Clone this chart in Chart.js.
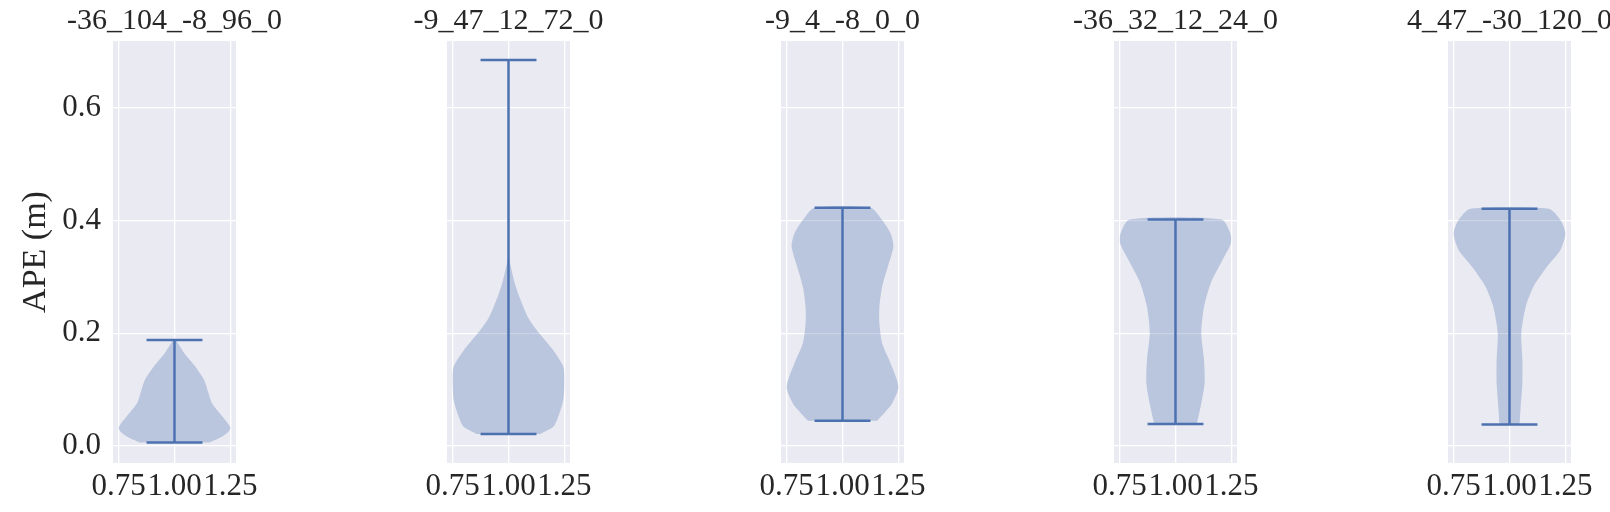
<!DOCTYPE html>
<html>
<head>
<meta charset="utf-8">
<script src="https://cdn.jsdelivr.net/npm/chart.js@4.4.0/dist/chart.umd.min.js"></script>
<style>
  html, body { margin: 0; padding: 0; background: #fff; overflow: hidden; }
  #wrap { position: relative; width: 1610px; height: 512px; }
  #wrap canvas { position: absolute; top: 0; }
</style>
</head>
<body>
<div id="wrap"></div>
<script>
// ── Dados ──────────────────────────────────────────────────────────────────────
const titles = ['-36_104_-8_96_0', '-9_47_12_72_0', '-9_4_-8_0_0', '-36_32_12_24_0', '4_47_-30_120_0'];
const apeMin = [0.006, 0.0213, 0.045, 0.039, 0.038];
const apeMax = [0.188, 0.685, 0.423, 0.402, 0.421];

// perfil de cada violino: níveis de APE (de baixo p/ cima) e meia-largura relativa
const levels1 = [0.006, 0.015, 0.025, 0.033, 0.052, 0.076, 0.093, 0.117, 0.141, 0.164, 0.188];
const widths1 = [0.62, 0.82, 0.96, 1.00, 0.86, 0.67, 0.61, 0.53, 0.37, 0.18, 0.02];
const levels2 = [0.0213, 0.034, 0.052, 0.082, 0.117, 0.141, 0.170, 0.200, 0.230, 0.283, 0.336];
const widths2 = [0.57, 0.80, 0.89, 0.98, 1.00, 0.98, 0.80, 0.55, 0.34, 0.13, 0.0];
const levels3 = [0.045, 0.060, 0.076, 0.105, 0.147, 0.182, 0.218, 0.247, 0.283, 0.318, 0.354, 0.377, 0.401, 0.423];
const widths3 = [0.62, 0.76, 0.89, 1.00, 0.86, 0.71, 0.66, 0.66, 0.71, 0.81, 0.91, 0.86, 0.71, 0.50];
const levels4 = [0.039, 0.070, 0.111, 0.153, 0.200, 0.247, 0.289, 0.330, 0.360, 0.378, 0.402];
const widths4 = [0.38, 0.45, 0.52, 0.51, 0.46, 0.51, 0.63, 0.84, 0.99, 0.98, 0.82];
const levels5 = [0.038, 0.070, 0.111, 0.153, 0.200, 0.247, 0.283, 0.318, 0.348, 0.377, 0.401, 0.421];
const widths5 = [0.18, 0.20, 0.23, 0.23, 0.21, 0.29, 0.43, 0.67, 0.91, 1.00, 0.91, 0.70];

const profiles = [
  [levels1, widths1], [levels2, widths2], [levels3, widths3], [levels4, widths4], [levels5, widths5],
];

const xTicks = [0.75, 1.00, 1.25];
const yTicks = [0.0, 0.2, 0.4, 0.6];

// ── Estilo ────────────────────────────────────────────────────────────────────
const FONT  = "'Liberation Serif', 'DejaVu Serif', serif";
const TEXT  = '#262626';
const PANEL = '#EAEAF2';
const LINE  = '#4C72B0';
const FILL  = 'rgba(76,114,176,0.3)';
const HALF  = 0.25;          // meia-largura máxima do violino (widths=0.5)
const CAP   = 0.125;         // meia-largura das barras min/max

const canvasLeft = [0, 334, 668, 1001, 1335];
const AXIS_W = 113;
const PLOT_W = 123;

const panelBg = {
  id: 'panelBg',
  beforeDraw(chart) {
    const { ctx, chartArea: a } = chart;
    ctx.save();
    ctx.fillStyle = PANEL;
    ctx.fillRect(a.left, a.top, a.width, a.height);
    ctx.restore();
  },
};

function outline(levels, widths) {
  const left  = levels.map((y, k) => ({ x: 1 - widths[k] * HALF, y }));
  const right = levels.map((y, k) => ({ x: 1 + widths[k] * HALF, y })).reverse();
  return left.concat(right);
}

function buildPanel(i) {
  const canvas = document.createElement('canvas');
  canvas.width = AXIS_W * 2 + PLOT_W;
  canvas.height = 512;
  canvas.style.left = canvasLeft[i] + 'px';
  document.getElementById('wrap').appendChild(canvas);

  const first = i === 0;
  const [lv, wd] = profiles[i];
  const lineDs = data => ({
    data, showLine: true, borderColor: LINE, borderWidth: 2.5,
    pointRadius: 0, fill: false, borderCapStyle: 'butt',
  });

  return new Chart(canvas, {
    type: 'scatter',
    data: {
      datasets: [
        {
          data: outline(lv, wd),
          showLine: true,
          fill: 'shape',
          backgroundColor: FILL,
          borderWidth: 0,
          borderColor: 'transparent',
          pointRadius: 0,
          tension: 0.25,
        },
        lineDs([{ x: 1, y: apeMin[i] }, { x: 1, y: apeMax[i] }]),
        lineDs([{ x: 1 - CAP, y: apeMin[i] }, { x: 1 + CAP, y: apeMin[i] }]),
        lineDs([{ x: 1 - CAP, y: apeMax[i] }, { x: 1 + CAP, y: apeMax[i] }]),
      ],
    },
    options: {
      responsive: false,
      animation: false,
      devicePixelRatio: 1,
      layout: { padding: 0 },
      plugins: {
        legend: { display: false },
        tooltip: { enabled: false },
        title: {
          display: true,
          text: titles[i],
          color: TEXT,
          font: { family: FONT, size: 30, weight: 'normal', lineHeight: 1 },
          padding: { top: 6, bottom: 5 },
        },
      },
      scales: {
        x: {
          type: 'linear',
          min: 0.725,
          max: 1.275,
          bounds: 'data',
          afterFit: s => { s.height = 49; },
          afterBuildTicks: s => { s.ticks = xTicks.map(v => ({ value: v })); },
          ticks: {
            color: TEXT,
            font: { family: FONT, size: 31 },
            padding: 5,
            autoSkip: false,
            maxRotation: 0,
            minRotation: 0,
            callback: v => v.toFixed(2),
          },
          grid: { color: '#ffffff', lineWidth: 1.3, drawTicks: false },
          border: { display: false },
        },
        y: {
          type: 'linear',
          min: -0.0302,
          max: 0.7188,
          bounds: 'data',
          afterFit: s => { s.width = AXIS_W; },
          afterBuildTicks: s => { s.ticks = yTicks.map(v => ({ value: v })); },
          ticks: {
            display: first,
            color: TEXT,
            font: { family: FONT, size: 31 },
            padding: 12,
            callback: v => v.toFixed(1),
          },
          title: {
            display: first,
            text: 'APE (m)',
            color: TEXT,
            font: { family: FONT, size: 34 },
            padding: { top: 16, bottom: 0 },
          },
          grid: { color: '#ffffff', lineWidth: 1.3, drawTicks: false },
          border: { display: false },
        },
        yR: {
          type: 'linear',
          position: 'right',
          display: true,
          afterFit: s => { s.width = AXIS_W; },
          ticks: { display: false },
          grid: { display: false, drawTicks: false },
          border: { display: false },
        },
      },
    },
    plugins: [panelBg],
  });
}

titles.forEach((_, i) => buildPanel(i));
</script>
</body>
</html>
